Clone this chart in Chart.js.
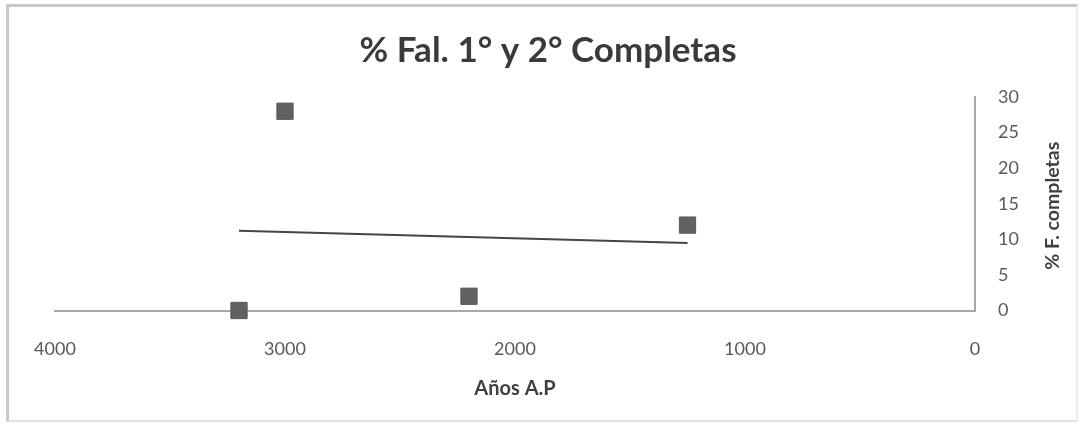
<!DOCTYPE html>
<html>
<head>
<meta charset="utf-8">
<script src="https://cdn.jsdelivr.net/npm/chart.js@4.4.1/dist/chart.umd.min.js"></script>
<style>
  html, body { margin: 0; padding: 0; background: #ffffff; }
  #wrap { position: relative; width: 1084px; height: 424px; overflow: hidden; }
  #c { position: absolute; left: 0; top: 0; }
  #frame {
    position: absolute; left: 6px; top: 4px; width: 1072px; height: 418px;
    box-sizing: border-box;
    border-left: 3px solid #c9c9c9; border-top: 3px solid #c9c9c9;
    border-right: 2px solid #ececec; border-bottom: 2px solid #e2e2e2;
    pointer-events: none;
  }
</style>
</head>
<body>
<div id="wrap">
  <canvas id="c" width="1084" height="424"></canvas>
  <div id="frame"></div>
</div>
<script>
// Samples: age (years before present) and % of complete phalanges
const years = [3200, 3000, 2200, 1250];
const pctCompletas = [0, 28, 2, 12];

// Axis ticks
const xTicks = [4000, 3000, 2000, 1000, 0];
const yTicks = [0, 5, 10, 15, 20, 25, 30];

// Text
const chartTitle = '% Fal. 1° y 2° Completas';
const xTitle = 'Años A.P';
const yTitle = '% F. completas';

// Least-squares linear trend over the samples
function linearTrend(xs, ys) {
  const n = xs.length;
  const mx = xs.reduce((a, b) => a + b, 0) / n;
  const my = ys.reduce((a, b) => a + b, 0) / n;
  let sxy = 0, sxx = 0;
  for (let i = 0; i < n; i++) {
    sxy += (xs[i] - mx) * (ys[i] - my);
    sxx += (xs[i] - mx) * (xs[i] - mx);
  }
  const slope = sxy / sxx;
  const icpt = my - slope * mx;
  const x0 = Math.min(...xs), x1 = Math.max(...xs);
  return [{ x: x1, y: icpt + slope * x1 }, { x: x0, y: icpt + slope * x0 }];
}

const FONT = 'Lato, "DejaVu Sans", sans-serif';

// Rotated right-hand axis title (reads bottom-to-top)
const rightAxisTitle = {
  id: 'rightAxisTitle',
  afterDraw(chart) {
    const { ctx, chartArea } = chart;
    ctx.save();
    ctx.translate(1053, (chartArea.top + chartArea.bottom) / 2 + 2);
    ctx.rotate(-Math.PI / 2);
    ctx.font = 'bold 19.5px ' + FONT;
    ctx.fillStyle = '#3f3f3f';
    ctx.textAlign = 'center';
    ctx.textBaseline = 'middle';
    ctx.fillText(yTitle, 0, 0);
    ctx.restore();
  }
};

new Chart(document.getElementById('c'), {
  type: 'scatter',
  data: {
    datasets: [
      {
        type: 'line',
        data: linearTrend(years, pctCompletas),
        borderColor: '#454545',
        borderWidth: 2,
        pointRadius: 0,
        fill: false,
        order: 2
      },
      {
        data: years.map((x, i) => ({ x, y: pctCompletas[i] })),
        pointStyle: 'rect',
        pointRadius: 11.5,
        backgroundColor: '#616161',
        borderColor: '#5a5a5a',
        borderWidth: 1,
        clip: false,
        order: 1
      }
    ]
  },
  options: {
    responsive: false,
    animation: false,
    events: [],
    layout: { padding: { left: 12, right: 0, top: 0, bottom: 0 } },
    plugins: {
      legend: { display: false },
      tooltip: { enabled: false },
      title: {
        display: true,
        text: chartTitle,
        color: '#3a3a3a',
        font: { family: FONT, size: 35, weight: 'bold' },
        padding: { top: 30, bottom: 25 }
      }
    },
    scales: {
      x: {
        type: 'linear',
        position: 'bottom',
        reverse: true,
        min: 0,
        max: 4000,
        afterBuildTicks: s => { s.ticks = xTicks.map(v => ({ value: v })); },
        afterFit: s => { s.height = 113.5; s.paddingLeft = 55; },
        grid: { display: false, drawTicks: false },
        border: { display: true, color: '#a8a8a8', width: 2 },
        ticks: {
          color: '#595959',
          padding: 28,
          maxRotation: 0,
          font: { family: FONT, size: 18 },
          callback: v => String(v)
        },
        title: {
          display: true,
          text: xTitle,
          color: '#3f3f3f',
          font: { family: FONT, size: 20, weight: 'bold' },
          padding: { top: 0, bottom: 23 }
        }
      },
      y: {
        type: 'linear',
        position: 'right',
        min: 0,
        max: 30,
        afterBuildTicks: s => { s.ticks = yTicks.map(v => ({ value: v })); },
        afterFit: s => { s.width = 109; },
        grid: { display: false, drawTicks: false },
        border: { display: true, color: '#a8a8a8', width: 2 },
        ticks: {
          color: '#595959',
          padding: 23,
          font: { family: FONT, size: 18 },
          callback: v => String(v)
        },
        title: { display: false }
      }
    }
  },
  plugins: [rightAxisTitle]
});
</script>
</body>
</html>
